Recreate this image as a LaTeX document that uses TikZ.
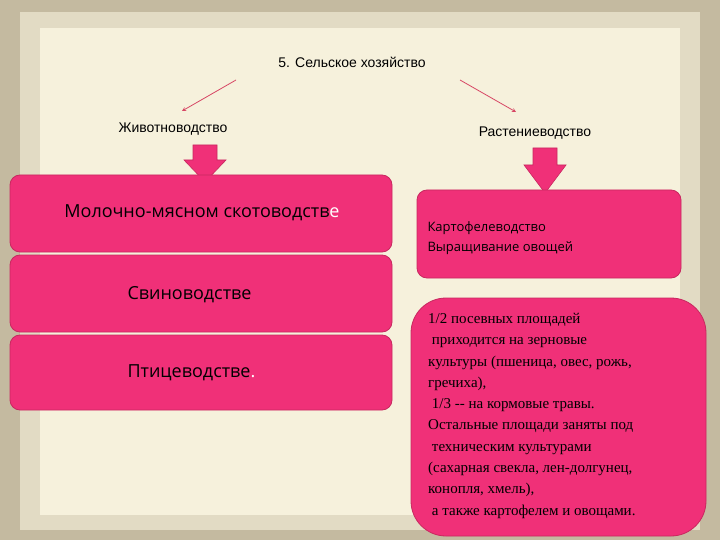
\documentclass[tikz,border=0pt]{standalone}
\usepackage{fontspec}
\setmainfont{Liberation Sans}
\newfontfamily\serifru{Liberation Serif}
\newfontfamily\sansru{Open Sans}
\definecolor{pinkbox}{RGB}{240,48,120}
\definecolor{pinkedge}{RGB}{200,40,95}
\definecolor{frame}{RGB}{196,186,160}
\definecolor{inner}{RGB}{246,241,220}
\definecolor{linecol}{RGB}{215,70,100}
\tikzset{
 box/.style={fill=pinkbox,draw=pinkedge,line width=0.8pt,rounded corners=10pt},
 barrow/.style={fill=pinkbox,draw=pinkedge,line width=0.6pt},
 conn/.style={draw=linecol,line width=0.8pt,->,>=stealth},
 lbl/.style={font=\fontsize{14}{16}\selectfont}
}
\begin{document}
\begin{tikzpicture}[x=1pt,y=-1pt]
\useasboundingbox (0,0) rectangle (720,540);
\fill[frame] (0,0) rectangle (720,540);
\fill[inner!60!frame] (20,12) rectangle (700,530);
\fill[inner] (40,28) rectangle (680,515);
\node[lbl] (title) at (352,62) {5. Сельское хозяйство};
\node[lbl] (zhiv) at (173,129) {Животноводство};
\node[lbl] (rast) at (535,133) {Растениеводство};
\coordinate (la) at (236,80); \coordinate (lb) at (182,111);
\coordinate (ra) at (460,80); \coordinate (rb) at (516,112);
\draw[conn] (la) -- (lb);
\draw[conn] (ra) -- (rb);
\draw[barrow] (193,145) -- (217,145) -- (217,160) -- (226,160) -- (205,182) -- (184,160) -- (193,160) -- cycle;
\draw[barrow] (533,148) -- (557,148) -- (557,165) -- (566,165) -- (545,193) -- (524,165) -- (533,165) -- cycle;
\draw[box] (10,175) rectangle (392,252);
\draw[box] (10,255) rectangle (392,332);
\draw[box] (10,335) rectangle (392,410);
\node[font=\sansru\fontsize{18}{20}\selectfont] (m1) at (202,213) {Молочно-мясном скотоводств\textcolor{white}{е}};
\node[anchor=west,font=\sansru\fontsize{18}{20}\selectfont] (m2) at (124,295) {Свиноводстве};
\node[anchor=west,font=\sansru\fontsize{18}{20}\selectfont] (m3) at (124,373) {Птицеводстве\textcolor{white}{.}};
\draw[box] (417,190) rectangle (681,278);
\node[anchor=west,align=left,font=\sansru\fontsize{13}{20}\selectfont] (r1) at (424,238) {Картофелеводство\\Выращивание овощей};
\draw[box,rounded corners=35pt] (411,298) rectangle (706,536);
\node[anchor=north west,align=left,inner sep=0pt,font=\serifru\fontsize{15}{21.3}\selectfont] (r2) at (428,313) {1/2 посевных площадей\\
\ приходится на зерновые\\
культуры (пшеница, овес, рожь,\\
гречиха),\\
\ 1/3 -- на кормовые травы.\\
Остальные площади заняты под\\
\ техническим культурами\\
(сахарная свекла, лен-долгунец,\\
конопля, хмель),\\
\ а также картофелем и овощами.};
\end{tikzpicture}
\end{document}
